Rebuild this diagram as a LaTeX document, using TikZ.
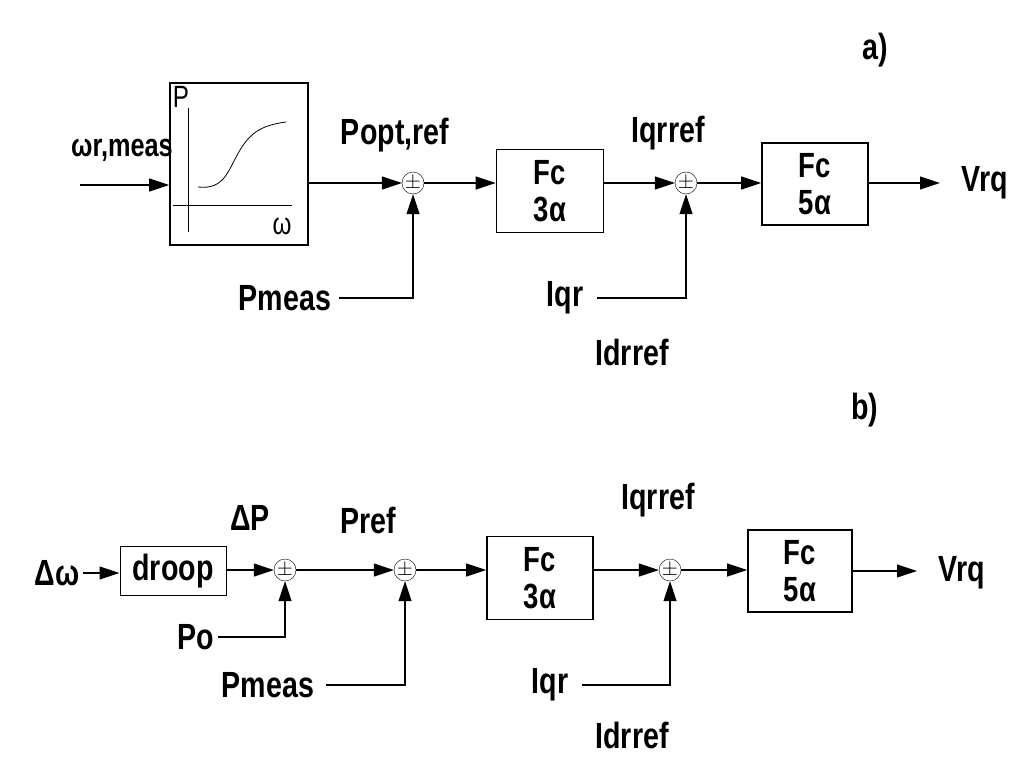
\documentclass[tikz,border=0pt]{standalone}
\usepackage{fontspec}
\usepackage{graphicx}
\setmainfont{Liberation Sans}
\usetikzlibrary{arrows.meta}
\newcommand{\tall}[1]{\scalebox{1.1}[1.4]{#1}}
\tikzstyle{block} = [draw=black,line width=1.6pt,inner sep=0pt,font=\fontsize{25}{25}\bfseries,align=center]
\tikzstyle{sumnode} = [draw=black,circle,inner sep=0pt,minimum size=22pt,font=\fontsize{20}{20}\selectfont]
\tikzstyle{label} = [font=\fontsize{26}{30}\bfseries]
\tikzstyle{edge} = [draw=black,line width=1.1pt,-{Triangle[length=20pt,width=13pt]}]

\begin{document}
\begin{tikzpicture}[x=1pt,y=-1pt]
    \useasboundingbox (0,0) rectangle (1024,760);

    % a)
    \node [label] (TA) at (875,50) {\tall{a)}};
    \node [label,font=\fontsize{23}{26}\bfseries] (Win) at (122,150) {\tall{ωr,meas}};
    \coordinate (WinS) at (80,185);
    \node [block,minimum width=138pt,minimum height=162pt] (Char) at (239,164) {};
    \draw [line width=0.9pt] (188,108) -- (188,232);
    \draw [line width=0.9pt] (173,205) -- (292,205);
    \draw [line width=0.8pt] (198,187) .. controls (225,190) and (228,170) .. (240,150)
        .. controls (252,130) and (265,125) .. (286,122);
    \node [font=\fontsize{22}{22}\selectfont] (CP) at (181,97) {\tall{P}};
    \node [font=\fontsize{22}{22}\selectfont] (CW) at (282,226) {\tall{ω}};
    \node [sumnode] (S1) at (413,183) {$\pm$};
    \node [label] (Popt) at (395,135) {\tall{Popt,ref}};
    \node [block,minimum width=107pt,minimum height=83pt] (F1) at (550,191) {\tall{Fc}\\[12pt]\tall{3α}};
    \node [label] (Iqrref) at (668,133) {\tall{Iqrref}};
    \node [sumnode] (S2) at (686,183) {$\pm$};
    \node [block,minimum width=106pt,minimum height=82pt] (F2) at (815,184) {\tall{Fc}\\[12pt]\tall{5α}};
    \node [label] (Vrq) at (985,183) {\tall{Vrq}};
    \coordinate (Vend) at (940,183);
    \node [label] (Pmeas) at (285,298) {\tall{Pmeas}};
    \coordinate (PmC) at (413,298);
    \node [label] (Iqr) at (565,298) {\tall{Iqr}};
    \coordinate (IqC) at (686,298);
    \node [label] (Idrref) at (632,352) {\tall{Idrref}};

    \draw [style=edge] (WinS) -- (Char.west |- WinS);
    \draw [style=edge] (Char.east |- S1) -- (S1);
    \draw [style=edge] (S1) -- (F1.west |- S1);
    \draw [style=edge] (F1.east |- S2) -- (S2);
    \draw [style=edge] (S2) -- (F2.west |- S2);
    \draw [style=edge] (F2.east |- Vend) -- (Vend);
    \draw [style=edge] (Pmeas.east) ++(4,0) -- (PmC) -- (S1);
    \draw [style=edge] (Iqr.east) ++(10,0) -- (IqC) -- (S2);

    % b)
    \node [label] (TB) at (865,410) {\tall{b)}};
    \node [label] (Dw) at (57,573) {\tall{Δω}};
    \node [draw=black,line width=1pt,font=\fontsize{26}{30}\bfseries,minimum width=106pt,minimum height=49pt,inner sep=0pt] (Droop) at (173,571) {\tall{droop}};
    \node [sumnode] (T1) at (285,570) {$\pm$};
    \node [label] (DP) at (250,518) {\tall{ΔP}};
    \node [label] (Po) at (196,637) {\tall{Po}};
    \coordinate (PoC) at (285,637);
    \node [sumnode] (T2) at (405,570) {$\pm$};
    \node [label] (Pref) at (368,520) {\tall{Pref}};
    \node [label] (Pmeas2) at (268,685) {\tall{Pmeas}};
    \coordinate (Pm2C) at (405,685);
    \node [block,minimum width=106pt,minimum height=83pt] (G1) at (540,578) {\tall{Fc}\\[12pt]\tall{3α}};
    \node [label] (Iqrref2) at (658,500) {\tall{Iqrref}};
    \node [sumnode] (T3) at (670,570) {$\pm$};
    \node [block,minimum width=104pt,minimum height=82pt] (G2) at (800,571) {\tall{Fc}\\[12pt]\tall{5α}};
    \node [label] (Vrq2) at (962,573) {\tall{Vrq}};
    \coordinate (V2end) at (917,571);
    \node [label] (Iqr2) at (550,685) {\tall{Iqr}};
    \coordinate (Iq2C) at (670,685);
    \node [label] (Idrref2) at (632,735) {\tall{Idrref}};

    \draw [style=edge] (Dw.east) -- (Droop.west |- Dw.east);
    \draw [style=edge] (Droop.east |- T1) -- (T1);
    \draw [style=edge] (T1) -- (T2);
    \draw [style=edge] (T2) -- (G1.west |- T2);
    \draw [style=edge] (G1.east |- T3) -- (T3);
    \draw [style=edge] (T3) -- (G2.west |- T3);
    \draw [style=edge] (G2.east |- V2end) -- (V2end);
    \draw [style=edge] (Po.east) -- (PoC) -- (T1);
    \draw [style=edge] (Pmeas2.east) ++(8,0) -- (Pm2C) -- (T2);
    \draw [style=edge] (Iqr2.east) ++(10,0) -- (Iq2C) -- (T3);
\end{tikzpicture}
\end{document}
